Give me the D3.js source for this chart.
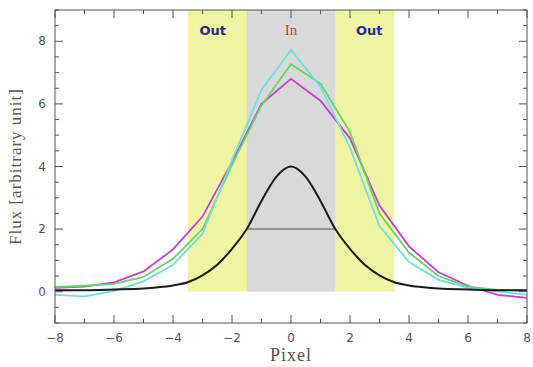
<!DOCTYPE html>
<html>
<head>
<meta charset="utf-8">
<script src="https://cdn.jsdelivr.net/npm/d3@7"></script>
<style>
  body { margin: 0; background: #fff; }
</style>
</head>
<body>
<div id="chart"></div>
<script>
// pixel positions sampled by the colored profiles
const pixels = [-8, -7, -6, -5, -4, -3, -2, -1, 0, 1, 2, 3, 4, 5, 6, 7, 8];
const magenta = [0.12, 0.16, 0.3, 0.65, 1.35, 2.4, 4.15, 6.0, 6.8, 6.1, 4.9, 2.75, 1.45, 0.62, 0.19, -0.1, -0.2];
const green   = [0.15, 0.19, 0.25, 0.47, 1.05, 2.0, 4.05, 5.95, 7.27, 6.65, 5.1, 2.5, 1.25, 0.5, 0.16, 0.06, 0.03];
const cyan    = [-0.1, -0.15, 0.03, 0.33, 0.86, 1.85, 4.2, 6.45, 7.72, 6.55, 4.6, 2.1, 0.95, 0.38, 0.12, 0.01, -0.1];

// smooth model profile (black)
const modelX = [-8, -7, -6, -5, -4.5, -4, -3.5, -3, -2.5, -2, -1.5, -1, -0.5, 0, 0.5, 1, 1.5, 2, 2.5, 3, 3.5, 4, 4.5, 5, 6, 7, 8];
const modelY = [0.05, 0.05, 0.07, 0.1, 0.14, 0.2, 0.3, 0.52, 0.86, 1.37, 2.0, 2.9, 3.67, 4.0, 3.67, 2.9, 2.0, 1.37, 0.86, 0.52, 0.3, 0.2, 0.14, 0.1, 0.07, 0.05, 0.05];

// aperture regions
const outRange = [-3.5, 3.5];
const inRange = [-1.5, 1.5];
const halfMax = 2;

const xTicks = [-8, -6, -4, -2, 0, 2, 4, 6, 8];
const yTicks = [0, 2, 4, 6, 8];

const width = 533, height = 367;
const margin = { left: 55, right: 6, top: 10, bottom: 44 };

const svg = d3.select("#chart").append("svg")
    .attr("width", width)
    .attr("height", height);

const x = d3.scaleLinear().domain([-8, 8]).range([margin.left, width - margin.right]);
const y = d3.scaleLinear().domain([-1, 9]).range([height - margin.bottom, margin.top]);

// Shaded regions
svg.append("rect")
    .attr("x", x(outRange[0]))
    .attr("y", y(9))
    .attr("width", x(outRange[1]) - x(outRange[0]))
    .attr("height", y(0) - y(9))
    .style("fill", "#eef4a2");

svg.append("rect")
    .attr("x", x(inRange[0]))
    .attr("y", y(9))
    .attr("width", x(inRange[1]) - x(inRange[0]))
    .attr("height", y(0) - y(9))
    .style("fill", "#d9d9d9");

// Labels
const labels = [
    { t: "Out", v: -2.65, c: "#2b2b85", w: "bold", f: "'DejaVu Sans', sans-serif", s: 13 },
    { t: "In", v: 0, c: "#c03a3a", w: "normal", f: "'Liberation Serif', serif", s: 15 },
    { t: "Out", v: 2.65, c: "#2b2b85", w: "bold", f: "'DejaVu Sans', sans-serif", s: 13 }
];
svg.selectAll("text.region")
    .data(labels)
    .enter()
    .append("text")
    .attr("class", "region")
    .attr("x", d => x(d.v))
    .attr("y", y(8.2))
    .attr("text-anchor", "middle")
    .style("font-family", d => d.f)
    .style("font-size", d => d.s + "px")
    .style("font-weight", d => d.w)
    .style("fill", d => d.c)
    .text(d => d.t);

// Half-max line
svg.append("line")
    .attr("x1", x(inRange[0]))
    .attr("x2", x(inRange[1]))
    .attr("y1", y(halfMax))
    .attr("y2", y(halfMax))
    .style("stroke", "#7a7a7a")
    .style("stroke-width", 1.5);

// Profiles
const line = d3.line()
    .x(d => x(d[0]))
    .y(d => y(d[1]));

const series = [
    { vals: magenta, color: "#c43fd0" },
    { vals: green, color: "#6cd06c" },
    { vals: cyan, color: "#6fe0e0" }
];
series.forEach(s => {
    svg.append("path")
        .datum(pixels.map((p, i) => [p, s.vals[i]]))
        .attr("d", line)
        .style("fill", "none")
        .style("stroke", s.color)
        .style("stroke-width", 1.8);
});

const smooth = d3.line()
    .x(d => x(d[0]))
    .y(d => y(d[1]))
    .curve(d3.curveMonotoneX);

svg.append("path")
    .datum(modelX.map((p, i) => [p, modelY[i]]))
    .attr("d", smooth)
    .style("fill", "none")
    .style("stroke", "#1a1a1a")
    .style("stroke-width", 2);

// Frame and ticks (PGPLOT style: inside, all four sides)
const frame = svg.append("g").style("stroke", "#555").style("stroke-width", 1);
frame.append("rect")
    .attr("x", x(-8))
    .attr("y", y(9))
    .attr("width", x(8) - x(-8))
    .attr("height", y(-1) - y(9))
    .style("fill", "none");

const xMinor = d3.range(-8, 8.01, 1);
xMinor.forEach(v => {
    const len = v % 2 === 0 ? 8 : 4;
    frame.append("line").attr("x1", x(v)).attr("x2", x(v)).attr("y1", y(-1)).attr("y2", y(-1) - len);
    frame.append("line").attr("x1", x(v)).attr("x2", x(v)).attr("y1", y(9)).attr("y2", y(9) + len);
});
const yMinor = d3.range(-1, 9.01, 0.5);
yMinor.forEach(v => {
    const len = v % 2 === 0 ? 8 : 4;
    frame.append("line").attr("y1", y(v)).attr("y2", y(v)).attr("x1", x(-8)).attr("x2", x(-8) + len);
    frame.append("line").attr("y1", y(v)).attr("y2", y(v)).attr("x1", x(8)).attr("x2", x(8) - len);
});

// Tick labels
svg.selectAll("text.xt")
    .data(xTicks)
    .enter()
    .append("text")
    .attr("x", d => x(d))
    .attr("y", y(-1) + 19)
    .attr("text-anchor", "middle")
    .style("font-family", "'DejaVu Sans', sans-serif")
    .style("font-size", "12px")
    .style("fill", "#555")
    .text(d => d < 0 ? "\u2212" + Math.abs(d) : d);

svg.selectAll("text.yt")
    .data(yTicks)
    .enter()
    .append("text")
    .attr("x", x(-8) - 13)
    .attr("y", d => y(d) + 4)
    .attr("text-anchor", "middle")
    .style("font-family", "'DejaVu Sans', sans-serif")
    .style("font-size", "12px")
    .style("fill", "#555")
    .text(d => d);

// Axis titles
svg.append("text")
    .attr("x", (x(-8) + x(8)) / 2)
    .attr("y", height - 6)
    .attr("text-anchor", "middle")
    .style("font-family", "'Liberation Serif', serif")
    .style("font-size", "18px")
    .style("letter-spacing", "1px")
    .style("fill", "#555")
    .text("Pixel");

svg.append("text")
    .attr("transform", `translate(21,${(y(-1) + y(9)) / 2}) rotate(-90)`)
    .attr("text-anchor", "middle")
    .style("font-family", "'Liberation Serif', serif")
    .style("font-size", "17px")
    .style("letter-spacing", "1px")
    .style("fill", "#555")
    .text("Flux [arbitrary unit]");
</script>
</body>
</html>
